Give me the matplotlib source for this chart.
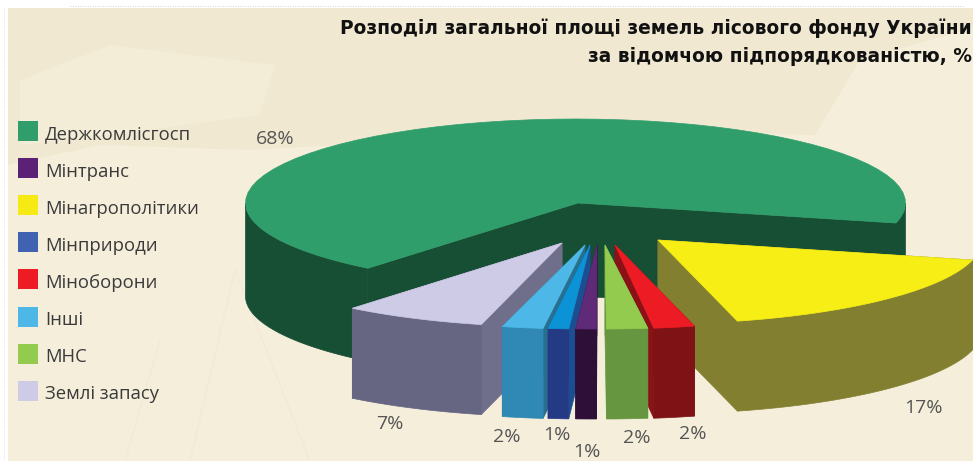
# -*- coding: UTF-8 -*-
import numpy as np
import matplotlib
matplotlib.use('Agg')
import matplotlib.pyplot as plt
from matplotlib.patches import Polygon, Rectangle

# ------------------------------ Data --------------------------------------- #

title_lines = ['Розподіл загальної площі земель лісового фонду України',
               'за відомчою підпорядкованістю, %']

legend_names = ['Держкомлісгосп', 'Мінтранс', 'Мінагрополітики', 'Мінприроди',
                'Міноборони', 'Інші', 'МНС', 'Землі запасу']
legend_colors = ['#2f9e6b', '#5a2175', '#f5ea14', '#3f63b0',
                 '#ed1c24', '#4db8e8', '#93cb4f', '#cdcbe6']

# slices counter-clockwise, starting from the big one
names = ['Держкомлісгосп', 'Землі запасу', 'Інші', 'Мінприроди', 'Мінтранс',
         'МНС', 'Міноборони', 'Мінагрополітики']
values = [68, 7, 2, 1, 1, 2, 2, 17]
labels = ['68%', '7%', '2%', '1%', '1%', '2%', '2%', '17%']

# --------------------------------- Style ----------------------------------- #

top_colors = ['#2f9e6b', '#cdcbe6', '#4db8e8', '#0b93d6', '#5f2a78', '#93cb4f', '#ed1c24', '#f7ee16']
wall_colors = ['#174f35', '#666582', '#3089b5', '#253a85', '#2e0f38', '#66963f', '#7e1214', '#827f30']
side_colors = ['#174f35', '#6f6e8b', '#276f8d', '#1c4e92', '#2e0f38', '#66963f', '#8a1115', '#827f30']

# tip of each slice, and centre of its outer arc
tip_x = [578, 562, 585, 590, 597, 605, 615, 658]
tip_y = [203, 243, 245, 245, 245, 245, 245, 240]
arc_x = [575.5, 560, 581, 586, 593, 603, 609, 652]
depths = [93, 90, 90, 90, 90, 90, 90, 90]
label_x = [275, 390, 507, 557, 587, 637, 693, 923]
label_y = [139, 424, 437, 435, 452, 438, 434, 408]

rx, ry = 330, 84
start_angle = -13.8

# draw order, back to front
order = [0, 1, 2, 3, 4, 7, 6, 5]

# --------------------------------------------------------------------------- #

fig = plt.figure(figsize=(9.73, 4.61), dpi=100)
ax = fig.add_axes([0, 0, 1, 1])
ax.set_xlim(0, 973)
ax.set_ylim(461, 0)
ax.axis('off')
fig.patch.set_facecolor('white')

# panel and faint leaves behind the chart
ax.add_patch(Rectangle((8, 8), 965, 453, fc='#f5eedb', ec='none', zorder=0))
ax.add_patch(Polygon([(8, 8), (973, 8), (973, 28), (860, 60), (815, 135), (600, 130),
                      (250, 150), (100, 145), (8, 165)], fc='#f0e8d1', ec='none', zorder=0))
ax.add_patch(Polygon([(20, 80), (110, 45), (275, 65), (260, 115), (110, 135), (20, 145)],
                     fc='#f3ecd7', ec='none', zorder=0))
for x1, y1, x2, y2 in [(235, 270, 190, 461), (235, 270, 310, 461), (160, 340, 125, 461)]:
    ax.plot([x1, x2], [y1, y2], color='#f2ead5', lw=1.0, zorder=0)
ax.plot([70, 965], [6, 6], color='#c8c8c8', lw=0.6, ls=(0, (1, 2)), zorder=0)
ax.plot([4, 4], [8, 461], color='#d8d8d8', lw=0.6, ls=(0, (1, 2)), zorder=0)


def arc(theta1, theta2, x0, y0, dy=0):
    t = np.radians(np.linspace(theta1, theta2, 60))
    return np.column_stack([x0 + rx * np.cos(t), y0 + dy - ry * np.sin(t)])


def face(points, color):
    ax.add_patch(Polygon(points, fc=color, ec=color, lw=0.5, zorder=2))


angles = np.cumsum([0] + [v * 3.6 for v in values]) + start_angle

for i in order:
    a1, a2 = angles[i], angles[i + 1]
    x0, y0, cx, d = tip_x[i], tip_y[i], arc_x[i], depths[i]
    top = arc(a1, a2, cx, y0)

    # inner side walls
    for p in (top[0], top[-1]):
        face([(x0, y0), p, p + (0, d), (x0, y0 + d)], side_colors[i])

    # outer wall, only the part facing front
    parts = [(a1, 0), (180, a2)] if i == 0 else [(a1, a2)]
    for b1, b2 in parts:
        face(np.vstack([arc(b1, b2, cx, y0), arc(b2, b1, cx, y0, d)]), wall_colors[i])

    face(np.vstack([[(x0, y0)], top]), top_colors[i])

# percent labels
for i in range(len(values)):
    ax.text(label_x[i], label_y[i], labels[i], ha='center', va='center', fontsize=14,
            color='#555555', family='Open Sans', zorder=3)

# legend
for k, (n, c) in enumerate(zip(legend_names, legend_colors)):
    yy = 131 + 37.1 * k
    ax.add_patch(Rectangle((18, yy - 10), 20, 20, fc=c, ec='none', zorder=3))
    ax.text(45, yy + 3.5, n, ha='left', va='center', fontsize=13.3, color='#3a3a3a',
            family='Open Sans', zorder=3)

# title
ax.text(972, 28, title_lines[0], ha='right', va='center', fontsize=13.45, fontweight='bold',
        color='#111111', family='DejaVu Sans', zorder=3)
ax.text(972, 56, title_lines[1], ha='right', va='center', fontsize=13.45, fontweight='bold',
        color='#111111', family='DejaVu Sans', zorder=3)

fig.savefig('out.png', dpi=100)
